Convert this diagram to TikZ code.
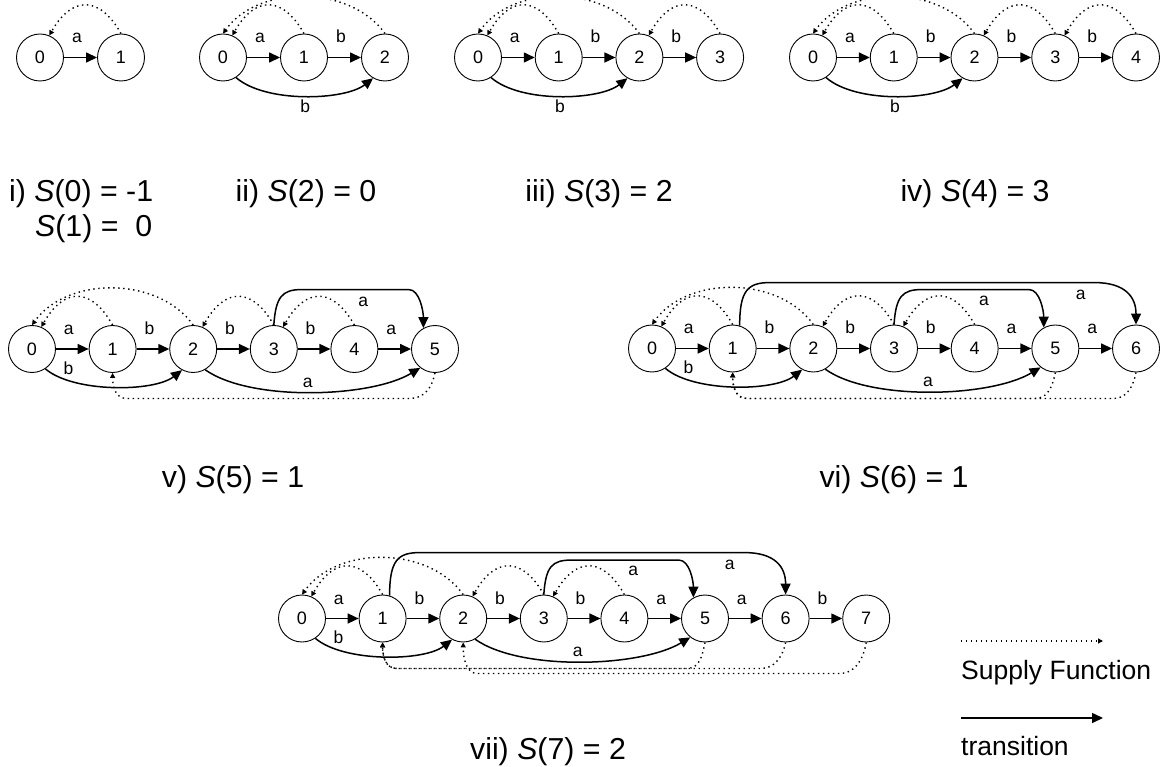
\documentclass[tikz,border=0pt]{standalone}
\usepackage{fontspec}
\setmainfont{Liberation Sans}
\usetikzlibrary{arrows.meta}
\begin{document}
\begin{tikzpicture}[x=1pt,y=-1pt,
  state/.style={circle,draw,line width=0.9pt,minimum size=47pt,inner sep=0pt,font=\fontsize{18}{18}\selectfont},
  trans/.style={line width=1.5pt,-{Triangle[length=11pt,width=10pt]}},
  supply/.style={line width=1.4pt,dash pattern=on 1.4pt off 3.6pt,-{Triangle[length=5pt,width=5pt]}},
  lab/.style={font=\fontsize{17.5}{17.5}\selectfont,anchor=base,inner sep=0pt},
  elab/.style={lab,pos=0.5,xshift=-3.5pt,yshift=14.5pt},
  captext/.style={font=\fontsize{30.3}{30.3}\selectfont,anchor=base,inner sep=0pt},
  legtext/.style={font=\fontsize{26.5}{26.5}\selectfont,anchor=base west,inner sep=0pt},
]
\useasboundingbox (0,0) rectangle (1165,767);

% ---------- i) ----------
\foreach \i in {0,1} \node[state] (a\i) at ({40+81*\i},57.5) {\i};
\draw[trans] (a0) -- node[elab]{a} (a1);
\draw[supply] (a1.north) .. controls +(-22,-39) and +(22,-39) .. (a0.67);
\node[captext,anchor=base west] (capi) at (9,201.7) {i) \textit{S}(0) = -1};
\node[captext,anchor=base west] (capib) at (35,236.5) {\textit{S}(1) =\ \ 0};

% ---------- ii) ----------
\foreach \i in {0,1,2} \node[state] (b\i) at ({223+81*\i},57.5) {\i};
\draw[trans] (b0) -- node[elab]{a} (b1);
\draw[trans] (b1) -- node[elab]{b} (b2);
\draw[trans] (b0.-57) .. controls +(30,26) and +(-28,22) .. node[lab,pos=0.5,yshift=-17pt]{b} (b2.-120);
\draw[supply] (b1.north) .. controls +(-22,-39) and +(22,-39) .. (b0.67);
\draw[supply] (b2.north) .. controls +(-35,-49) and +(35,-49) .. (b0.north);
\node[captext] (capii) at (306,201.7) {ii) \textit{S}(2) = 0};

% ---------- iii) ----------
\foreach \i in {0,...,3} \node[state] (c\i) at ({478+80.7*\i},57.5) {\i};
\draw[trans] (c0) -- node[elab]{a} (c1);
\draw[trans] (c1) -- node[elab]{b} (c2);
\draw[trans] (c2) -- node[elab]{b} (c3);
\draw[trans] (c0.-57) .. controls +(30,26) and +(-28,22) .. node[lab,pos=0.5,yshift=-17pt]{b} (c2.-120);
\draw[supply] (c1.north) .. controls +(-22,-39) and +(22,-39) .. (c0.67);
\draw[supply] (c2.north) .. controls +(-35,-49) and +(35,-49) .. (c0.north);
\draw[supply] (c3.north) .. controls +(-22,-39) and +(22,-39) .. (c2.67);
\node[captext] (capiii) at (599,201.7) {iii) \textit{S}(3) = 2};

% ---------- iv) ----------
\foreach \i in {0,...,4} \node[state] (d\i) at ({813+80.75*\i},57.5) {\i};
\draw[trans] (d0) -- node[elab]{a} (d1);
\draw[trans] (d1) -- node[elab]{b} (d2);
\draw[trans] (d2) -- node[elab]{b} (d3);
\draw[trans] (d3) -- node[elab]{b} (d4);
\draw[trans] (d0.-57) .. controls +(30,26) and +(-28,22) .. node[lab,pos=0.5,yshift=-17pt]{b} (d2.-120);
\draw[supply] (d1.north) .. controls +(-22,-39) and +(22,-39) .. (d0.67);
\draw[supply] (d2.north) .. controls +(-35,-49) and +(35,-49) .. (d0.north);
\draw[supply] (d3.north) .. controls +(-22,-39) and +(22,-39) .. (d2.67);
\draw[supply] (d4.north) .. controls +(-22,-39) and +(22,-39) .. (d3.67);
\node[captext] (capiv) at (975,201.7) {iv) \textit{S}(4) = 3};

% ---------- v) ----------
\foreach \i in {0,...,5} \node[state] (e\i) at ({32+80.6*\i},349) {\i};
\draw[trans] (e0) -- node[elab]{a} (e1);
\draw[trans] (e1) -- node[elab]{b} (e2);
\draw[trans] (e2) -- node[elab]{b} (e3);
\draw[trans] (e3) -- node[elab]{b} (e4);
\draw[trans] (e4) -- node[elab]{a} (e5);
\draw[trans] (e0.-56) .. controls +(28,24) and +(-28,22) .. node[lab,pos=0,xshift=23pt,yshift=-5.5pt]{b} (e2.-118);
\draw[trans] (e2.-60) .. controls +(45,32) and +(-50,30) .. node[lab,pos=0.5,xshift=-3pt,yshift=5pt]{a} (e5.-128);
\draw[trans] (e3.north) .. controls +(2,-28) and +(-20,0) .. ++(28,-35.5)
  -- node[lab,pos=0.5,xshift=8pt,yshift=-16.5pt]{a} ++(107,0)
  .. controls +(11,0) and +(0,-16) .. (e5.119);
\draw[supply] (e1.north) .. controls +(-22,-39) and +(22,-39) .. (e0.67);
\draw[supply] (e2.north) .. controls +(-35,-49) and +(35,-49) .. (e0.north);
\draw[supply] (e3.north) .. controls +(-22,-39) and +(22,-39) .. (e2.67);
\draw[supply] (e4.north) .. controls +(-22,-39) and +(22,-39) .. (e3.67);
\draw[supply] (e5.south) .. controls +(-3,15) and +(14,0) .. ([shift={(-25,25.5)}]e5.south)
  -- ([shift={(14,25.5)}]e1.south) .. controls +(-11,0) and +(0,14) .. (e1.south);
\node[captext] (capv) at (233,487) {v) \textit{S}(5) = 1};

% ---------- vi) ----------
\foreach \i in {0,...,6} \node[state] (f\i) at ({652+80.67*\i},348.5) {\i};
\draw[trans] (f0) -- node[elab]{a} (f1);
\draw[trans] (f1) -- node[elab]{b} (f2);
\draw[trans] (f2) -- node[elab]{b} (f3);
\draw[trans] (f3) -- node[elab]{b} (f4);
\draw[trans] (f4) -- node[elab]{a} (f5);
\draw[trans] (f5) -- node[elab]{a} (f6);
\draw[trans] (f0.-56) .. controls +(28,24) and +(-28,22) .. node[lab,pos=0,xshift=23pt,yshift=-5.5pt]{b} (f2.-118);
\draw[trans] (f2.-60) .. controls +(45,32) and +(-50,30) .. node[lab,pos=0.5,xshift=-3pt,yshift=5pt]{a} (f5.-128);
\draw[trans] (f3.north) .. controls +(2,-28) and +(-20,0) .. ++(28,-35)
  -- node[lab,pos=0.5,xshift=8.5pt,yshift=-15.5pt]{a} ++(107,0)
  .. controls +(11,0) and +(0,-16) .. (f5.119);
\draw[trans] (f1.73) .. controls +(0,-35) and +(-22,0) .. ++(30,-43)
  -- node[lab,pos=0.957,yshift=-17pt]{a} ++(325,0)
  .. controls +(30,0) and +(0,-28) .. (f6.north);
\draw[supply] (f1.north) .. controls +(-22,-39) and +(22,-39) .. (f0.67);
\draw[supply] (f2.north) .. controls +(-35,-49) and +(35,-49) .. (f0.north);
\draw[supply] (f3.north) .. controls +(-22,-39) and +(22,-39) .. (f2.67);
\draw[supply] (f4.north) .. controls +(-22,-39) and +(22,-39) .. (f3.67);
\draw[supply] (f5.south) .. controls +(-3,15) and +(12,0) .. ([shift={(-20,26)}]f5.south)
  -- ([shift={(14,26)}]f1.south) .. controls +(-11,0) and +(0,14) .. (f1.south);
\draw[supply] (f6.south) .. controls +(-3,15) and +(12,0) .. ([shift={(-22,26)}]f6.south)
  -- ([shift={(14,26)}]f1.south) .. controls +(-11,0) and +(0,14) .. (f1.south);
\node[captext] (capvi) at (894,487) {vi) \textit{S}(6) = 1};

% ---------- vii) ----------
\foreach \i in {0,...,7} \node[state] (g\i) at ({302+80.6*\i},618.5) {\i};
\draw[trans] (g0) -- node[elab]{a} (g1);
\draw[trans] (g1) -- node[elab]{b} (g2);
\draw[trans] (g2) -- node[elab]{b} (g3);
\draw[trans] (g3) -- node[elab]{b} (g4);
\draw[trans] (g4) -- node[elab]{a} (g5);
\draw[trans] (g5) -- node[elab]{a} (g6);
\draw[trans] (g6) -- node[elab]{b} (g7);
\draw[trans] (g0.-56) .. controls +(28,24) and +(-28,22) .. node[lab,pos=0,xshift=23pt,yshift=-5.5pt]{b} (g2.-118);
\draw[trans] (g2.-60) .. controls +(45,32) and +(-50,30) .. node[lab,pos=0.5,xshift=-3pt,yshift=5pt]{a} (g5.-128);
\draw[trans] (g3.north) .. controls +(2,-28) and +(-20,0) .. ++(28,-34.5)
  -- node[lab,pos=0.5,xshift=8pt,yshift=-15.5pt]{a} ++(107,0)
  .. controls +(11,0) and +(0,-16) .. (g5.119);
\draw[trans] (g1.73) .. controls +(0,-35) and +(-22,0) .. ++(30,-43)
  -- node[lab,pos=0.954,yshift=-17pt]{a} ++(325,0)
  .. controls +(30,0) and +(0,-28) .. (g6.north);
\draw[supply] (g1.north) .. controls +(-22,-39) and +(22,-39) .. (g0.67);
\draw[supply] (g2.north) .. controls +(-35,-49) and +(35,-49) .. (g0.north);
\draw[supply] (g3.north) .. controls +(-22,-39) and +(22,-39) .. (g2.67);
\draw[supply] (g4.north) .. controls +(-22,-39) and +(22,-39) .. (g3.67);
\draw[supply] (g5.south) .. controls +(-3,15) and +(12,0) .. ([shift={(-18,26)}]g5.south)
  -- ([shift={(14,26)}]g1.south) .. controls +(-11,0) and +(0,14) .. (g1.south);
\draw[supply] (g6.south) .. controls +(-3,15) and +(12,0) .. ([shift={(-24,26)}]g6.south)
  -- ([shift={(14,26)}]g1.south) .. controls +(-11,0) and +(0,14) .. (g1.south);
\draw[supply] (g7.south) .. controls +(-3,18) and +(14,0) .. ([shift={(-26,31)}]g7.south)
  -- ([shift={(14,31)}]g2.south) .. controls +(-11,0) and +(0,16) .. (g2.south);
\node[captext] (capvii) at (548,759) {vii) \textit{S}(7) = 2};

% ---------- legend ----------
\coordinate (sfA) at (961,641);
\coordinate (sfB) at (1103,641);
\draw[supply] (sfA) -- (sfB);
\node[legtext] (sftext) at (961,679) {Supply Function};
\coordinate (trA) at (961,718);
\coordinate (trB) at (1103,718);
\draw[trans] (trA) -- (trB);
\node[legtext] (trtext) at (961,755.5) {transition};
\end{tikzpicture}
\end{document}
